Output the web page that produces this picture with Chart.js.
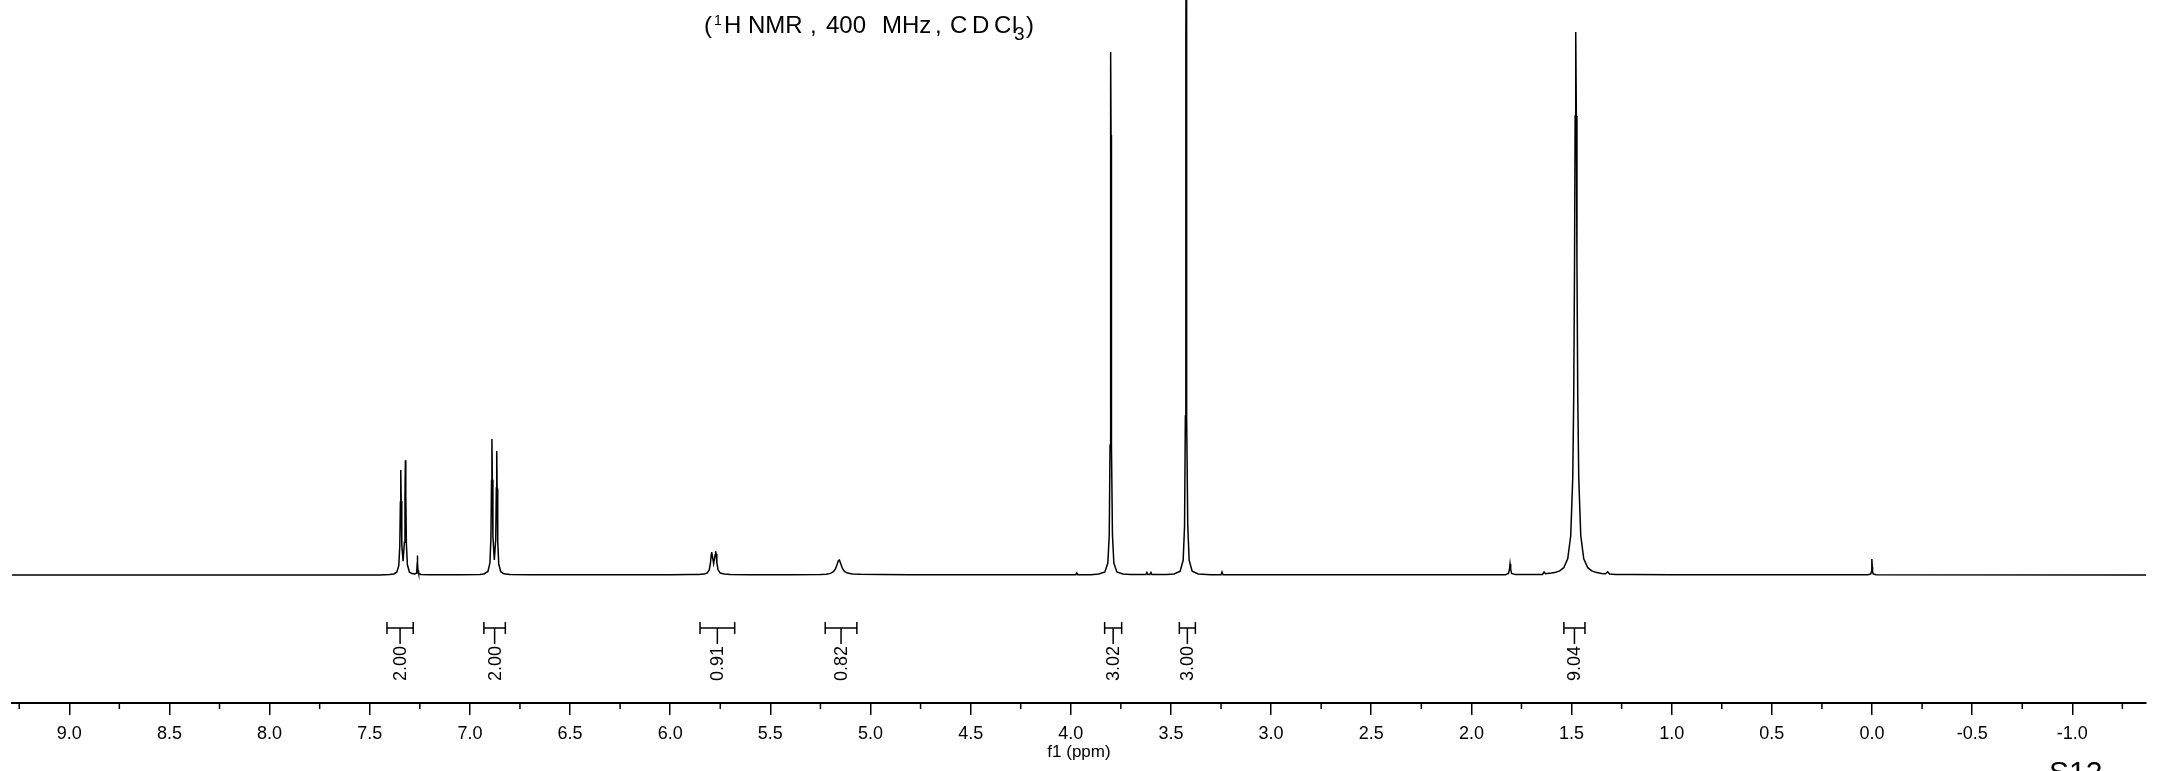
<!DOCTYPE html>
<html>
<head>
<meta charset="utf-8">
<script src="https://cdn.jsdelivr.net/npm/chart.js@4"></script>
<style>
html, body { margin: 0; padding: 0; background: #fff; }
#wrap { width: 2157px; height: 771px; position: relative; }
</style>
</head>
<body>
<div id="wrap"><canvas id="nmr"></canvas></div>
<script>
// spectrum trace (ppm, intensity above baseline)
const ppm = [
  9.286, 7.45, 7.40, 7.38, 7.365, 7.355, 7.35, 7.347, 7.345, 7.343, 7.34, 7.3335,
  7.327, 7.324, 7.322, 7.320, 7.317, 7.312, 7.302, 7.29, 7.275, 7.268, 7.265, 7.263,
  7.262, 7.261, 7.259, 7.256, 7.245, 7.20, 7.05,
  6.95, 6.93, 6.91, 6.90, 6.895, 6.892, 6.890, 6.888, 6.885, 6.878, 6.871, 6.868,
  6.866, 6.864, 6.861, 6.856, 6.846, 6.83, 6.80, 6.70, 6.0,
  5.90, 5.86, 5.83, 5.815, 5.805, 5.799, 5.795, 5.793, 5.790, 5.783, 5.776, 5.773,
  5.771, 5.767, 5.761, 5.75, 5.73, 5.70, 5.60, 5.40,
  5.25, 5.22, 5.20, 5.185, 5.175, 5.167, 5.16, 5.155, 5.148, 5.14, 5.13, 5.115,
  5.09, 5.05, 4.95, 4.80, 4.50, 4.0,
  3.975, 3.97, 3.965, 3.90, 3.86, 3.83, 3.815, 3.808, 3.804, 3.802, 3.801, 3.800,
  3.799, 3.798, 3.796, 3.792, 3.785, 3.77, 3.74, 3.70,
  3.625, 3.62, 3.615, 3.605, 3.60, 3.595, 3.52,
  3.484, 3.454, 3.439, 3.432, 3.428, 3.426, 3.425, 3.424, 3.423, 3.422, 3.420, 3.416,
  3.409, 3.394, 3.364, 3.30, 3.25, 3.245, 3.24, 3.0, 2.5, 2.05,
  1.83, 1.815, 1.81, 1.807, 1.804, 1.799, 1.78, 1.70, 1.645, 1.637, 1.63, 1.60,
  1.579, 1.559, 1.539, 1.519, 1.504, 1.494, 1.489, 1.485, 1.482, 1.479, 1.476, 1.473,
  1.469, 1.464, 1.454, 1.439, 1.419, 1.399, 1.379, 1.35, 1.33, 1.32, 1.31, 1.28,
  1.2, 1.0, 0.5, 0.02, 0.006, 0.003, 0.0015, 0.0, -0.0015, -0.003, -0.006, -0.02, -1.368
];
const intensity = [
  0, 0, 0.5, 1.0, 2.8, 9.4, 28.6, 73, 105, 74, 30.4, 13.8,
  32.7, 80.5, 114.7, 80, 31, 10.2, 3.0, 1.4, 1.0, 1.8, 4.5, 12,
  19.5, 12, 4.5, 1.6, 0.6, 0.3, 0.2,
  0.4, 1.0, 3.5, 12, 36.7, 94.6, 136, 95.2, 38.4, 15.1, 35.6, 87,
  124, 86.5, 33.7, 11.1, 3.3, 1.2, 0.5, 0.2, 0.2,
  0.4, 0.6, 0.9, 2.0, 5.1, 11.8, 20.5, 22.9, 19.3, 11.4, 20, 23.8,
  21.3, 12.3, 5.2, 1.9, 0.9, 0.5, 0.3, 0.3,
  0.5, 0.8, 1.6, 3.3, 6.1, 10.4, 14.5, 15, 11, 6.6, 3.5, 1.9,
  1.1, 0.7, 0.5, 0.3, 0.2, 0.2,
  0.3, 2.0, 0.3, 0.3, 1.0, 3, 12, 40, 130, 298, 440, 523,
  440, 298, 130, 40, 12, 3, 1.0, 0.4,
  0.4, 2.5, 0.6, 0.6, 2.5, 0.4, 0.5,
  1.1, 3.7, 14.7, 49, 159, 364, 538, 640, 538, 364, 159, 49,
  14.7, 3.7, 1.1, 0.3, 0.3, 3, 0.3, 0.2, 0.2, 0.2,
  0.3, 1.6, 5.5, 11, 5.5, 1.6, 0.4, 0.4, 0.6, 3, 1.2, 2.0,
  2.7, 4.1, 7.3, 16.1, 39.5, 97, 179, 313, 459, 543, 459, 313,
  179, 97, 39.5, 16.1, 7.3, 4.1, 2.65, 1.6, 1.3, 3.2, 1.0, 0.6,
  0.4, 0.3, 0.2, 0.2, 1.0, 3.2, 8, 16, 8, 3.2, 1.0, 0.2, 0
];

// integrals
const intFrom = [7.414, 6.930, 5.851, 5.226, 3.831, 3.458, 1.538];
const intTo = [7.283, 6.823, 5.678, 5.068, 3.746, 3.378, 1.433];
const intLabels = ['2.00', '2.00', '0.91', '0.82', '3.02', '3.00', '9.04'];

// axis ticks
const majorTicks = [9.0, 8.5, 8.0, 7.5, 7.0, 6.5, 6.0, 5.5, 5.0, 4.5, 4.0, 3.5, 3.0, 2.5, 2.0, 1.5, 1.0, 0.5, 0.0, -0.5, -1.0];
const minorTicks = [9.25, 8.75, 8.25, 7.75, 7.25, 6.75, 6.25, 5.75, 5.25, 4.75, 4.25, 3.75, 3.25, 2.75, 2.25, 1.75, 1.25, 0.75, 0.25, -0.25, -0.75, -1.25];

const FONT = '"Liberation Sans", Arial, Helvetica, sans-serif';

const nmrDecor = {
  id: 'nmrDecor',
  afterDraw(chart) {
    const { ctx, chartArea } = chart;
    const xs = chart.scales.x;
    ctx.save();
    ctx.strokeStyle = '#000';
    ctx.fillStyle = '#000';

    // minor ticks
    ctx.lineWidth = 1.5;
    minorTicks.forEach(v => {
      const x = xs.getPixelForValue(v);
      ctx.beginPath();
      ctx.moveTo(x, chartArea.bottom);
      ctx.lineTo(x, chartArea.bottom + 6);
      ctx.stroke();
    });

    // integral brackets + rotated values
    ctx.lineWidth = 1.5;
    ctx.font = '18px ' + FONT;
    intLabels.forEach((lab, i) => {
      const x1 = xs.getPixelForValue(intFrom[i]);
      const x2 = xs.getPixelForValue(intTo[i]);
      const cx = (x1 + x2) / 2;
      ctx.beginPath();
      ctx.moveTo(x1, 628); ctx.lineTo(x2, 628);
      ctx.moveTo(x1, 622); ctx.lineTo(x1, 634);
      ctx.moveTo(x2, 622); ctx.lineTo(x2, 634);
      ctx.moveTo(cx, 628); ctx.lineTo(cx, 644);
      ctx.stroke();
      ctx.save();
      ctx.translate(cx, 646);
      ctx.rotate(-Math.PI / 2);
      ctx.textAlign = 'right';
      ctx.textBaseline = 'middle';
      ctx.fillText(lab, 0, 1);
      ctx.restore();
    });

    // axis title
    ctx.font = '17px ' + FONT;
    ctx.textAlign = 'center';
    ctx.textBaseline = 'middle';
    ctx.fillText('f1 (ppm)', (chartArea.left + chartArea.right) / 2, 752);

    // header, letters placed as spaced in the original
    ctx.textAlign = 'left';
    ctx.textBaseline = 'alphabetic';
    ctx.font = '24px ' + FONT;
    ctx.fillText('(', 704, 33);
    ctx.fillText('H', 724, 33);
    ctx.fillText('NMR', 748, 33);
    ctx.fillText(',', 810, 33);
    ctx.fillText('400', 826, 33);
    ctx.fillText('MHz', 882, 33);
    ctx.fillText(',', 935, 33);
    ctx.fillText('C', 950, 33);
    ctx.fillText('D', 972, 33);
    ctx.fillText('C', 994, 33);
    ctx.fillText('l', 1012, 33);
    ctx.fillText(')', 1026, 33);
    ctx.font = '14px ' + FONT;
    ctx.fillText('1', 714, 25);
    ctx.font = '19px ' + FONT;
    ctx.fillText('3', 1014, 40);

    // page label
    ctx.font = '30px ' + FONT;
    ctx.fillText('S12', 2049, 782);
    ctx.restore();
  }
};

new Chart(document.getElementById('nmr'), {
  type: 'line',
  data: {
    datasets: [{
      data: ppm.map((p, i) => ({ x: p, y: intensity[i] })),
      borderColor: '#000',
      borderWidth: 1.5,
      pointRadius: 0,
      tension: 0,
      fill: false
    }]
  },
  options: {
    responsive: true,
    maintainAspectRatio: false,
    animation: false,
    layout: { padding: { left: 12, right: 11, top: 0, bottom: 18 } },
    plugins: { legend: { display: false }, tooltip: { enabled: false } },
    scales: {
      x: {
        type: 'linear',
        reverse: true,
        min: -1.368,
        max: 9.286,
        afterBuildTicks: s => { s.ticks = majorTicks.map(v => ({ value: v })); },
        ticks: {
          callback: v => Number(v).toFixed(1),
          color: '#000',
          font: { family: FONT, size: 18, lineHeight: 1.0 },
          padding: 10,
          maxRotation: 0,
          autoSkip: false
        },
        grid: { drawOnChartArea: false, drawTicks: true, tickLength: 12, color: '#000', lineWidth: 1.5 },
        border: { display: true, color: '#000', width: 2 }
      },
      y: { display: false, min: -128, max: 575 }
    }
  },
  plugins: [nmrDecor]
});
</script>
</body>
</html>
